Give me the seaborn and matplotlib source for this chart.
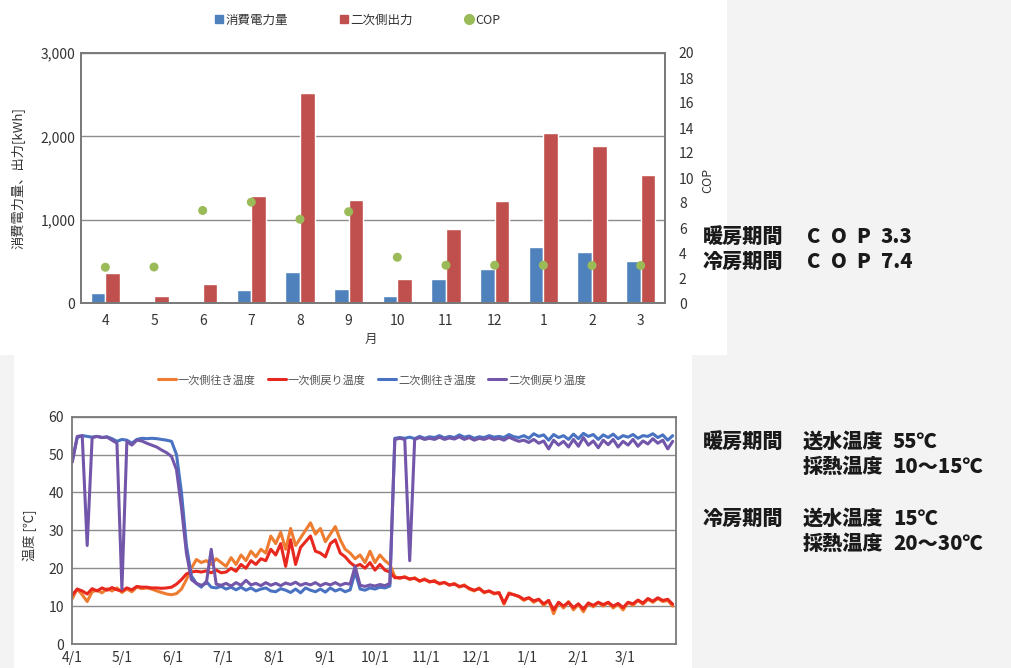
import numpy as np
import pandas as pd
import matplotlib
matplotlib.use("Agg")
import matplotlib.pyplot as plt
from matplotlib.lines import Line2D
from matplotlib.patches import Rectangle
import seaborn as sns

# ---- monthly energy / COP ----
months = ["4", "5", "6", "7", "8", "9", "10", "11", "12", "1", "2", "3"]
power_kwh = [125, 30, 25, 156, 372, 168, 80, 288, 404, 668, 616, 508]
output_kwh = [365, 84, 225, 1284, 2520, 1241, 288, 888, 1229, 2045, 1880, 1536]
cop = [2.86, 2.88, 7.4, 8.07, 6.7, 7.3, 3.66, 3.02, 3.02, 3.02, 3.0, 3.0]

# ---- temperatures, sampled every 3 days from 4/1 ----
primary_supply = [
    12.0, 14.5, 13.0, 11.2, 13.8, 14.2, 13.5, 14.6, 14.0, 14.8,
    13.6, 14.5, 13.8, 15.0, 14.6, 14.8, 14.5, 14.0, 13.6, 13.2,
    13.0, 13.3, 14.5, 17.0, 20.0, 22.3, 21.5, 22.0, 21.0, 22.5,
    21.5, 20.5, 22.8, 21.0, 23.5, 22.0, 24.5, 23.0, 25.0, 24.0,
    28.5, 26.5, 29.5, 25.0, 30.5, 26.0, 28.0, 30.0, 32.0, 29.0,
    30.5, 27.0, 29.0, 31.0, 27.5, 25.0, 24.0, 22.5, 23.5, 21.5,
    24.5, 21.5, 23.5, 22.0, 21.0, 17.8, 17.3, 17.8, 17.0, 17.5,
    16.5, 17.2, 16.3, 16.8, 15.8, 16.3, 15.5, 16.0, 15.0, 15.6,
    14.5, 14.0, 14.8, 13.5, 14.0, 13.2, 13.6, 10.5, 13.5, 13.0,
    12.5, 11.5, 12.2, 11.0, 11.8, 10.2, 11.5, 8.0, 11.0, 9.5,
    11.2, 9.0, 10.5, 8.5, 10.8, 9.8, 11.0, 10.0, 11.0, 9.5,
    10.5, 9.0, 11.0, 10.2, 11.5, 10.5, 11.8, 11.0, 12.0, 11.2,
    11.5, 10.0,
]
primary_return = [
    13.0, 14.5, 14.0, 13.2, 14.6, 14.0, 14.8, 14.2, 14.9, 14.3,
    14.0, 14.8, 14.3, 15.2, 15.0, 15.0, 14.8, 14.8, 14.7, 14.8,
    15.0, 15.8, 17.0, 18.5, 19.0, 19.2, 19.0, 19.3, 18.8, 19.5,
    18.8, 19.0, 20.0, 19.2, 21.0, 20.0, 22.0, 21.0, 22.5, 22.0,
    25.0, 23.5, 26.5, 20.5, 27.5, 21.0, 25.5, 27.0, 28.5, 24.5,
    24.0, 23.0, 26.5, 27.5, 24.0, 23.0, 21.5, 20.5, 21.0, 20.0,
    21.5, 19.5, 21.0, 19.5, 19.0, 17.5, 17.5, 17.6, 17.2, 17.3,
    16.7, 17.0, 16.5, 16.5, 16.0, 16.2, 15.6, 15.8, 15.2, 15.4,
    14.7, 14.2, 14.6, 13.7, 14.0, 13.4, 13.5, 10.8, 13.3, 13.0,
    12.6, 11.8, 12.2, 11.4, 11.8, 10.6, 11.5, 9.0, 11.0, 10.0,
    11.0, 9.6, 10.6, 9.2, 10.8, 10.2, 11.0, 10.4, 11.0, 10.0,
    10.7, 9.6, 11.0, 10.6, 11.6, 10.8, 12.0, 11.3, 12.2, 11.5,
    11.8, 10.5,
]
secondary_supply = [
    48.5, 54.5, 55.0, 54.8, 54.6, 54.8, 54.5, 54.7, 54.2, 53.5,
    54.0, 53.8, 53.0, 54.0, 54.3, 54.2, 54.3, 54.2, 54.0, 53.8,
    53.5, 50.0, 40.0, 26.0, 18.0, 16.0, 15.0, 16.5, 15.0, 14.8,
    15.2, 14.5, 15.0, 14.3, 15.0, 14.2, 14.8, 14.0, 14.5, 14.8,
    14.0, 13.8, 14.6, 14.2, 13.6, 14.5, 13.5, 14.8, 14.2, 13.8,
    14.5, 13.7, 14.8, 14.0, 14.5, 13.8, 14.3, 19.0, 14.5, 14.2,
    14.8, 14.5, 15.0, 14.8, 15.3, 54.3, 54.5, 54.3, 54.6, 54.2,
    54.8, 54.3, 54.7, 54.5, 55.0, 54.4, 54.8, 54.5, 55.2, 54.6,
    54.9, 54.3, 54.7, 54.5, 55.0, 54.6, 54.8, 54.5, 55.3, 54.7,
    54.5, 55.0, 54.3, 55.5, 54.8, 55.2, 53.8, 55.3, 54.5, 55.0,
    54.0, 55.4, 54.2, 55.6, 54.8, 55.3, 54.0, 55.2, 54.5, 55.4,
    54.2, 55.0, 54.6, 55.3, 54.3, 55.0, 54.8, 55.5, 54.5, 55.2,
    53.8, 55.0,
]
secondary_return = [
    48.0, 54.8, 55.0, 26.0, 54.5, 54.8, 54.5, 54.6, 53.8, 53.0,
    14.5, 53.5, 52.5, 53.8, 53.6, 53.0, 52.5, 52.0, 51.2, 50.5,
    49.5, 46.0, 36.0, 24.0, 17.0, 16.0, 15.5, 16.0, 25.0, 15.8,
    15.5, 16.0, 15.3, 16.2, 15.5, 16.8, 15.6, 16.0, 15.4, 16.2,
    15.5, 16.0, 15.4, 16.1, 15.7, 16.3, 15.5, 16.0, 15.6, 16.2,
    15.4, 16.0, 15.6, 16.2, 15.5, 16.0, 15.8, 20.5, 15.5, 15.2,
    15.6, 15.3, 15.7, 15.4, 16.0, 54.0, 54.3, 54.0, 22.0, 54.0,
    54.5, 54.0, 54.3, 54.0, 54.6, 54.0, 54.4, 54.1, 54.7, 54.0,
    54.5, 53.8, 54.3, 54.0, 54.5, 54.0, 54.3, 53.8, 54.6, 54.0,
    53.5, 53.8, 53.2, 54.0, 53.0, 53.6, 51.5, 53.8, 52.5, 53.5,
    52.0, 54.0, 52.2, 54.5, 52.5, 53.6, 51.8, 53.8, 52.6, 54.0,
    52.0, 53.5, 52.5, 54.0, 52.2, 53.6, 52.8, 54.2, 53.0, 53.8,
    51.5, 53.5,
]
date_ticks = ["4/1", "5/1", "6/1", "7/1", "8/1", "9/1", "10/1",
              "11/1", "12/1", "1/1", "2/1", "3/1"]

# ---- styling ----
sns.set_theme(style="white")
plt.rcParams["font.family"] = ["Noto Sans CJK JP", "DejaVu Sans"]
TXT = "#333333"
GRID = "#8c8c8c"
SPINE = "#7a7a7a"

W, H = 1012, 668
fig = plt.figure(figsize=(W / 100, H / 100), dpi=100)
fig.patch.set_facecolor("#f3f3f3")
fig.patches.extend([
    Rectangle((0, 1 - 355 / H), 727 / W, 355 / H, transform=fig.transFigure,
              facecolor="white", edgecolor="none", zorder=-10),
    Rectangle((14 / W, 0), (692 - 14) / W, 1 - 355 / H + 0.002, transform=fig.transFigure,
              facecolor="white", edgecolor="none", zorder=-10),
])

# ================= monthly bars + COP =================
ax1 = fig.add_axes([81 / W, 1 - 303 / H, 584 / W, 250 / H])
bar_df = pd.DataFrame({
    "month": months * 2,
    "kwh": power_kwh + output_kwh,
    "series": ["消費電力量"] * 12 + ["二次側出力"] * 12,
})
sns.barplot(data=bar_df, x="month", y="kwh", hue="series",
            palette=["#4f81bd", "#c0504d"], width=0.6, saturation=1,
            legend=False, ax=ax1, zorder=2)
ax1.set_ylim(0, 3000)
ax1.set_xlim(-0.5, 11.5)
ax1.set_yticks([0, 1000, 2000, 3000])
ax1.set_yticklabels([f"{v:,}" for v in [0, 1000, 2000, 3000]])
ax1.yaxis.grid(True, color=GRID, lw=1.0)
ax1.set_axisbelow(True)
ax1.set_xlabel("")
ax1.set_ylabel("")
ax1.set_xticks(np.arange(12) + 0.5, minor=True)
ax1.tick_params(axis="x", which="minor", length=3, width=1, color=SPINE, direction="out")
ax1.tick_params(axis="x", which="major", length=0, pad=8, labelsize=10, labelcolor=TXT)
ax1.tick_params(axis="y", length=0, pad=4, labelsize=10, labelcolor=TXT)

ax2 = ax1.twinx()
sns.scatterplot(x=np.arange(12), y=cop, color="#9bbb59", s=42, edgecolor="none",
                ax=ax2, zorder=4)
ax2.set_ylim(0, 20)
ax2.set_yticks(np.arange(0, 21, 2))
ax2.set_ylabel("")
ax2.tick_params(axis="y", length=0, pad=10, labelsize=10, labelcolor=TXT)
for ax in (ax1, ax2):
    for sp in ax.spines.values():
        sp.set_color(SPINE)
        sp.set_linewidth(1.3)
        sp.set_visible(True)

fig.text(18 / W, 1 - 178 / H, "消費電力量、出力[kWh]", rotation=90, ha="center",
         va="center", fontsize=9.5, color=TXT)
fig.text(708 / W, 1 - 180 / H, "COP", rotation=90, ha="center", va="center",
         fontsize=9, color=TXT)
fig.text(371 / W, 1 - 339 / H, "月", ha="center", va="center", fontsize=9, color=TXT)

top_handles = [
    Line2D([], [], marker="s", color="#4f81bd", ls="none", markersize=6),
    Line2D([], [], marker="s", color="#c0504d", ls="none", markersize=6),
    Line2D([], [], marker="o", color="#9bbb59", ls="none", markersize=7),
]
fig.legend(top_handles, ["消費電力量", "二次側出力", "COP"], loc="center",
           bbox_to_anchor=(358 / W, 1 - 20 / H), ncol=3, frameon=False, fontsize=9,
           handlelength=0.6, handletextpad=0.2, columnspacing=4.2, labelcolor=TXT)

# ================= daily temperatures =================
ax3 = fig.add_axes([72.3 / W, 1 - 644 / H, 603.7 / W, 227.3 / H])
sample_day = np.arange(0, 364, 3)
names = ["一次側往き温度", "一次側戻り温度", "二次側往き温度", "二次側戻り温度"]
colors = ["#ef7d31", "#e8281e", "#4a72c2", "#7256aa"]
temp_df = pd.concat([
    pd.DataFrame({"day": sample_day, "temp": vals, "series": nm})
    for nm, vals in zip(names, [primary_supply, primary_return,
                                secondary_supply, secondary_return])
])
sns.lineplot(data=temp_df, x="day", y="temp", hue="series", hue_order=names,
             palette=dict(zip(names, colors)), estimator=None, lw=2.2,
             legend=False, ax=ax3)
ax3.set_xlim(0, 365)
ax3.set_ylim(0, 60)
ax3.set_yticks(np.arange(0, 61, 10))
ax3.yaxis.grid(True, color=GRID, lw=1.0)
ax3.set_axisbelow(True)
month_start = (pd.date_range("2001-04-01", periods=12, freq="MS")
               - pd.Timestamp("2001-04-01")).days
ax3.set_xticks(month_start)
ax3.set_xticklabels(date_ticks)
ax3.set_xlabel("")
ax3.set_ylabel("")
ax3.tick_params(axis="x", length=4, width=1, color=SPINE, direction="in", pad=5,
                labelsize=10, labelcolor=TXT)
ax3.tick_params(axis="y", length=0, pad=6, labelsize=10, labelcolor=TXT)
for sp in ax3.spines.values():
    sp.set_color(SPINE)
    sp.set_linewidth(1.3)
    sp.set_visible(True)

fig.text(30 / W, 1 - 535 / H, "温度 [℃]", rotation=90, ha="center", va="center",
         fontsize=9.5, color=TXT)
bottom_handles = [Line2D([], [], color=c, lw=2.2) for c in colors]
fig.legend(bottom_handles, names, loc="center", bbox_to_anchor=(372 / W, 1 - 380 / H),
           ncol=4, frameon=False, fontsize=8, handlelength=1.6, handletextpad=0.2,
           columnspacing=1.1, labelcolor="#555555")

# ================= notes =================
NOTE = dict(fontsize=14.5, fontweight="heavy", color="#1a1a1a", va="center", ha="left")
for y, period, val in [(237, "暖房期間", "3.3"), (262, "冷房期間", "7.4")]:
    fig.text(703 / W, 1 - y / H, period, **NOTE)
    for x, ch in [(807, "C"), (831, "O"), (856, "P")]:
        fig.text(x / W, 1 - y / H, ch, **NOTE)
    fig.text(881 / W, 1 - y / H, val, **NOTE)

for y, period, item, val in [(442, "暖房期間", "送水温度", "55℃"),
                             (467, "", "採熱温度", "10～15℃"),
                             (519, "冷房期間", "送水温度", "15℃"),
                             (544, "", "採熱温度", "20～30℃")]:
    if period:
        fig.text(703 / W, 1 - y / H, period, **NOTE)
    fig.text(803 / W, 1 - y / H, item, **NOTE)
    fig.text(893 / W, 1 - y / H, val, **NOTE)

fig.savefig("out.png", dpi=100, facecolor=fig.get_facecolor())
